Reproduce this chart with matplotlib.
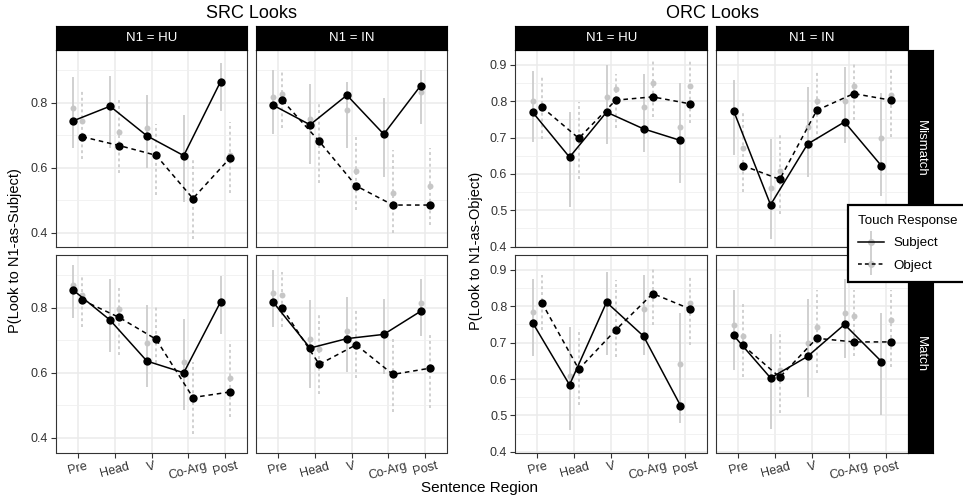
import matplotlib
matplotlib.use('Agg')
import matplotlib.pyplot as plt
from matplotlib.lines import Line2D
from matplotlib.legend_handler import HandlerTuple
import numpy as np

plt.rcParams['font.family'] = ['Liberation Sans', 'DejaVu Sans']

regions = ['Pre', 'Head', 'V', 'Co-Arg', 'Post']

# model estimates (fit), observed means (obs) and interval ends (lo, hi)
# SRC looks, N1 = HU, Mismatch
src_hu_mis_subj_fit = [0.744, 0.789, 0.698, 0.637, 0.865]
src_hu_mis_subj_obs = [0.785, 0.789, 0.723, 0.637, 0.860]
src_hu_mis_subj_lo = [0.660, 0.660, 0.598, 0.495, 0.775]
src_hu_mis_subj_hi = [0.880, 0.882, 0.824, 0.762, 0.923]
src_hu_mis_obj_fit = [0.695, 0.668, 0.638, 0.505, 0.629]
src_hu_mis_obj_obs = [0.744, 0.711, 0.638, 0.505, 0.639]
src_hu_mis_obj_lo = [0.626, 0.583, 0.516, 0.380, 0.521]
src_hu_mis_obj_hi = [0.841, 0.813, 0.734, 0.629, 0.742]

# SRC looks, N1 = IN, Mismatch
src_in_mis_subj_fit = [0.792, 0.732, 0.823, 0.703, 0.852]
src_in_mis_subj_obs = [0.818, 0.751, 0.778, 0.703, 0.833]
src_in_mis_subj_lo = [0.703, 0.610, 0.660, 0.570, 0.733]
src_in_mis_subj_hi = [0.900, 0.857, 0.865, 0.813, 0.900]
src_in_mis_obj_fit = [0.807, 0.681, 0.544, 0.485, 0.485]
src_in_mis_obj_obs = [0.828, 0.687, 0.590, 0.523, 0.544]
src_in_mis_obj_lo = [0.721, 0.552, 0.470, 0.398, 0.424]
src_in_mis_obj_hi = [0.900, 0.801, 0.700, 0.654, 0.660]

# SRC looks, N1 = HU, Match
src_hu_mat_subj_fit = [0.854, 0.762, 0.636, 0.600, 0.818]
src_hu_mat_subj_obs = [0.870, 0.762, 0.692, 0.633, 0.818]
src_hu_mat_subj_lo = [0.767, 0.665, 0.555, 0.485, 0.719]
src_hu_mat_subj_hi = [0.931, 0.887, 0.808, 0.764, 0.898]
src_hu_mat_obj_fit = [0.823, 0.770, 0.703, 0.524, 0.541]
src_hu_mat_obj_obs = [0.838, 0.795, 0.700, 0.524, 0.585]
src_hu_mat_obj_lo = [0.742, 0.655, 0.629, 0.411, 0.465]
src_hu_mat_obj_hi = [0.900, 0.860, 0.805, 0.634, 0.699]

# SRC looks, N1 = IN, Match
src_in_mat_subj_fit = [0.817, 0.676, 0.705, 0.718, 0.789]
src_in_mat_subj_obs = [0.846, 0.705, 0.729, 0.718, 0.814]
src_in_mat_subj_lo = [0.742, 0.554, 0.603, 0.595, 0.713]
src_in_mat_subj_hi = [0.916, 0.824, 0.832, 0.826, 0.887]
src_in_mat_obj_fit = [0.798, 0.626, 0.686, 0.595, 0.614]
src_in_mat_obj_obs = [0.840, 0.672, 0.690, 0.595, 0.614]
src_in_mat_obj_lo = [0.742, 0.534, 0.583, 0.478, 0.493]
src_in_mat_obj_hi = [0.911, 0.783, 0.795, 0.709, 0.723]

# ORC looks, N1 = HU, Mismatch
orc_hu_mis_subj_fit = [0.770, 0.646, 0.770, 0.724, 0.692]
orc_hu_mis_subj_obs = [0.800, 0.646, 0.812, 0.785, 0.730]
orc_hu_mis_subj_lo = [0.688, 0.510, 0.682, 0.661, 0.574]
orc_hu_mis_subj_hi = [0.883, 0.771, 0.900, 0.876, 0.849]
orc_hu_mis_obj_fit = [0.784, 0.698, 0.803, 0.812, 0.793]
orc_hu_mis_obj_obs = [0.785, 0.700, 0.833, 0.849, 0.842]
orc_hu_mis_obj_lo = [0.695, 0.585, 0.725, 0.757, 0.739]
orc_hu_mis_obj_hi = [0.872, 0.798, 0.876, 0.913, 0.913]

# ORC looks, N1 = IN, Mismatch
orc_in_mis_subj_fit = [0.774, 0.515, 0.682, 0.743, 0.622]
orc_in_mis_subj_obs = [0.774, 0.560, 0.728, 0.801, 0.700]
orc_in_mis_subj_lo = [0.652, 0.421, 0.591, 0.684, 0.540]
orc_in_mis_subj_hi = [0.858, 0.695, 0.838, 0.893, 0.823]
orc_in_mis_obj_fit = [0.623, 0.585, 0.775, 0.821, 0.803]
orc_in_mis_obj_obs = [0.670, 0.608, 0.800, 0.842, 0.817]
orc_in_mis_obj_lo = [0.551, 0.489, 0.693, 0.748, 0.702]
orc_in_mis_obj_hi = [0.771, 0.713, 0.881, 0.905, 0.893]

# ORC looks, N1 = HU, Match
orc_hu_mat_subj_fit = [0.755, 0.584, 0.811, 0.718, 0.527]
orc_hu_mat_subj_obs = [0.785, 0.607, 0.811, 0.793, 0.641]
orc_hu_mat_subj_lo = [0.664, 0.460, 0.667, 0.667, 0.478]
orc_hu_mat_subj_hi = [0.874, 0.744, 0.895, 0.886, 0.781]
orc_hu_mat_obj_fit = [0.810, 0.627, 0.735, 0.835, 0.793]
orc_hu_mat_obj_obs = [0.810, 0.630, 0.735, 0.835, 0.808]
orc_hu_mat_obj_lo = [0.735, 0.529, 0.661, 0.749, 0.694]
orc_hu_mat_obj_hi = [0.886, 0.738, 0.872, 0.905, 0.886]

# ORC looks, N1 = IN, Match
orc_in_mat_subj_fit = [0.720, 0.603, 0.662, 0.750, 0.648]
orc_in_mat_subj_obs = [0.749, 0.603, 0.700, 0.781, 0.648]
orc_in_mat_subj_lo = [0.625, 0.462, 0.551, 0.657, 0.501]
orc_in_mat_subj_hi = [0.845, 0.724, 0.819, 0.874, 0.782]
orc_in_mat_obj_fit = [0.693, 0.605, 0.712, 0.702, 0.702]
orc_in_mat_obj_obs = [0.719, 0.625, 0.744, 0.773, 0.762]
orc_in_mat_obj_lo = [0.605, 0.506, 0.617, 0.662, 0.632]
orc_in_mat_obj_hi = [0.812, 0.733, 0.845, 0.845, 0.845]

panels = {
    ('SRC', 'HU', 'Mismatch'): {
        'Subject': (src_hu_mis_subj_fit, src_hu_mis_subj_obs, src_hu_mis_subj_lo, src_hu_mis_subj_hi),
        'Object': (src_hu_mis_obj_fit, src_hu_mis_obj_obs, src_hu_mis_obj_lo, src_hu_mis_obj_hi)},
    ('SRC', 'IN', 'Mismatch'): {
        'Subject': (src_in_mis_subj_fit, src_in_mis_subj_obs, src_in_mis_subj_lo, src_in_mis_subj_hi),
        'Object': (src_in_mis_obj_fit, src_in_mis_obj_obs, src_in_mis_obj_lo, src_in_mis_obj_hi)},
    ('SRC', 'HU', 'Match'): {
        'Subject': (src_hu_mat_subj_fit, src_hu_mat_subj_obs, src_hu_mat_subj_lo, src_hu_mat_subj_hi),
        'Object': (src_hu_mat_obj_fit, src_hu_mat_obj_obs, src_hu_mat_obj_lo, src_hu_mat_obj_hi)},
    ('SRC', 'IN', 'Match'): {
        'Subject': (src_in_mat_subj_fit, src_in_mat_subj_obs, src_in_mat_subj_lo, src_in_mat_subj_hi),
        'Object': (src_in_mat_obj_fit, src_in_mat_obj_obs, src_in_mat_obj_lo, src_in_mat_obj_hi)},
    ('ORC', 'HU', 'Mismatch'): {
        'Subject': (orc_hu_mis_subj_fit, orc_hu_mis_subj_obs, orc_hu_mis_subj_lo, orc_hu_mis_subj_hi),
        'Object': (orc_hu_mis_obj_fit, orc_hu_mis_obj_obs, orc_hu_mis_obj_lo, orc_hu_mis_obj_hi)},
    ('ORC', 'IN', 'Mismatch'): {
        'Subject': (orc_in_mis_subj_fit, orc_in_mis_subj_obs, orc_in_mis_subj_lo, orc_in_mis_subj_hi),
        'Object': (orc_in_mis_obj_fit, orc_in_mis_obj_obs, orc_in_mis_obj_lo, orc_in_mis_obj_hi)},
    ('ORC', 'HU', 'Match'): {
        'Subject': (orc_hu_mat_subj_fit, orc_hu_mat_subj_obs, orc_hu_mat_subj_lo, orc_hu_mat_subj_hi),
        'Object': (orc_hu_mat_obj_fit, orc_hu_mat_obj_obs, orc_hu_mat_obj_lo, orc_hu_mat_obj_hi)},
    ('ORC', 'IN', 'Match'): {
        'Subject': (orc_in_mat_subj_fit, orc_in_mat_subj_obs, orc_in_mat_subj_lo, orc_in_mat_subj_hi),
        'Object': (orc_in_mat_obj_fit, orc_in_mat_obj_obs, orc_in_mat_obj_lo, orc_in_mat_obj_hi)},
}

W, H = 963, 498
fig = plt.figure(figsize=(W / 100, H / 100), dpi=100)


def px_axes(x0, y0, x1, y1):
    # axes from pixel box (top-left origin)
    return fig.add_axes([x0 / W, 1 - y1 / H, (x1 - x0) / W, (y1 - y0) / H])


cols = {'SRC': [(55.7, 247.3), (255.7, 447.3)],
        'ORC': [(515, 707.3), (716, 908.3)]}
rows = [(50, 247.3), (255, 452.5)]
n1_levels = ['HU', 'IN']
match_levels = ['Mismatch', 'Match']
ylims = {'SRC': (0.355, 0.962), 'ORC': (0.398, 0.941)}
ymajor = {'SRC': [0.4, 0.6, 0.8], 'ORC': [0.4, 0.5, 0.6, 0.7, 0.8, 0.9]}
yminor = {'SRC': [0.5, 0.7, 0.9], 'ORC': [0.45, 0.55, 0.65, 0.75, 0.85]}

idx = np.arange(1, len(regions) + 1)
styles = {'Subject': (-0.125, '-', '-'),
          'Object': (0.125, (0, (1.5, 1.5)), (0, (3, 2.5)))}
bar_col = '#d0d0d0'
obs_col = '#c6c6c6'

for clause in ['SRC', 'ORC']:
    for r, match in enumerate(match_levels):
        for c, n1 in enumerate(n1_levels):
            x0, x1 = cols[clause][c]
            y0, y1 = rows[r]
            ax = px_axes(x0, y0, x1, y1)
            ax.set_xlim(0.4, 5.6)
            ax.set_ylim(*ylims[clause])
            ax.set_xticks(idx)
            ax.set_yticks(ymajor[clause])
            ax.set_yticks(yminor[clause], minor=True)
            ax.grid(which='major', color='#ebebeb', lw=1.1)
            ax.grid(which='minor', axis='y', color='#f0f0f0', lw=0.6)
            ax.set_axisbelow(True)
            for s in ax.spines.values():
                s.set_color('#333333')
                s.set_linewidth(0.8)
            ax.tick_params(which='both', length=3.5, width=0.8, color='#333333',
                           labelsize=9, labelcolor='#333333', pad=2)
            ax.tick_params(which='minor', length=0)
            ax.set_xticklabels(regions, rotation=15, ha='center')
            ax.set_yticklabels([f'{v:.1f}' for v in ymajor[clause]])
            if c > 0:
                ax.tick_params(axis='y', left=False, labelleft=False)
            if r == 0:
                ax.tick_params(axis='x', bottom=False, labelbottom=False)

            for resp in ['Subject', 'Object']:
                off, bar_ls, line_ls = styles[resp]
                fit, obs, lo, hi = panels[(clause, n1, match)][resp]
                x = idx + off
                ax.vlines(x, lo, hi, colors=bar_col, lw=1.4, linestyles=bar_ls, zorder=2)
                ax.plot(x, obs, 'o', color=obs_col, ms=4.3, mew=0, zorder=3)
                ax.plot(x, fit, color='black', lw=1.1, ls=line_ls, zorder=4)
                ax.plot(x, fit, 'o', color='black', ms=6, mew=0, zorder=5)

            # facet strips
            if r == 0:
                st = px_axes(x0, 26, x1, y0)
                st.set_facecolor('black')
                st.set_xticks([])
                st.set_yticks([])
                st.text(0.5, 0.5, f'N1 = {n1}', color='white', ha='center', va='center',
                        fontsize=9.5, transform=st.transAxes)
            if clause == 'ORC' and c == 1:
                st = px_axes(x1, y0, 933.3, y1)
                st.set_facecolor('black')
                st.set_xticks([])
                st.set_yticks([])
                st.text(0.5, 0.5, match, color='white', ha='center', va='center',
                        rotation=270, fontsize=9.5, transform=st.transAxes)

fig.text(251 / W, 1 - 13 / H, 'SRC Looks', ha='center', va='center', fontsize=13)
fig.text(712 / W, 1 - 13 / H, 'ORC Looks', ha='center', va='center', fontsize=13)
fig.text(15 / W, 1 - 251 / H, 'P(Look to N1-as-Subject)', rotation=90,
         ha='center', va='center', fontsize=10.5)
fig.text(476 / W, 1 - 251 / H, 'P(Look to N1-as-Object)', rotation=90,
         ha='center', va='center', fontsize=10.5)
fig.text(479 / W, 1 - 488 / H, 'Sentence Region', ha='center', va='center', fontsize=11)

# legend keys: gray interval + gray point under the black line
subj_key = (Line2D([], [], color=bar_col, marker='|', ms=16, mew=1.4, ls='none'),
            Line2D([], [], color=obs_col, marker='o', ms=5, mew=0, ls='none'),
            Line2D([], [], color='black', lw=1.1))
obj_key = (Line2D([], [], color=bar_col, marker='|', ms=16, mew=1.4, ls='none'),
           Line2D([], [], color=obs_col, marker='o', ms=5, mew=0, ls='none'),
           Line2D([], [], color='black', lw=1.1, ls=(0, (2.5, 2))))
leg = fig.legend([subj_key, obj_key], ['Subject', 'Object'],
                 handler_map={tuple: HandlerTuple(ndivide=1)},
                 loc='upper left', bbox_to_anchor=(847.7 / W, 1 - 205 / H),
                 borderaxespad=0,
                 title='Touch Response', fontsize=9.6, title_fontsize=9.6,
                 frameon=True, fancybox=False, edgecolor='black', framealpha=1,
                 handlelength=2.0, handletextpad=0.7, labelspacing=0.75,
                 borderpad=0.75, alignment='left')
leg.get_frame().set_linewidth(1.6)

fig.savefig('out.png', dpi=100)
